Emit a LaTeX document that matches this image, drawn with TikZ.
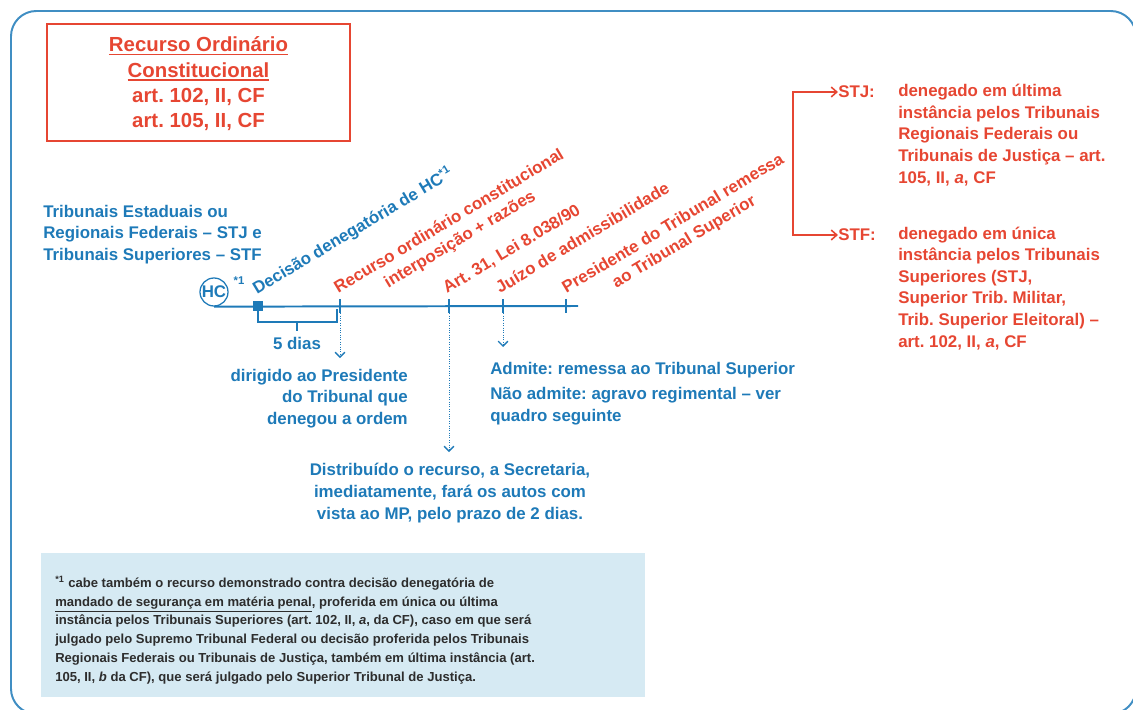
\documentclass[tikz,border=0pt]{standalone}
\usepackage{fontspec}
\setmainfont{Liberation Sans}
\frenchspacing
\usetikzlibrary{arrows.meta,positioning,calc}

\definecolor{rocblue}{RGB}{30,122,184}
\definecolor{rocred}{RGB}{230,70,50}
\definecolor{notefill}{RGB}{214,234,243}
\definecolor{notetext}{RGB}{45,45,45}

% heavier underline for the heading
\newcommand{\headul}[1]{\vtop{\hbox{#1}\kern1.2pt\hrule height 1.1pt}}

\tikzset{
  every node/.style={font=\bfseries\fontsize{12}{15}\selectfont, inner sep=0pt},
  bluetxt/.style={text=rocblue},
  redtxt/.style={text=rocred},
  stage/.style={rotate=31, anchor=base west, align=center},
  tick/.style={rocblue, line width=1.4pt},
  drop/.style={rocblue, densely dotted, line width=0.7pt,
    -{Straight Barb[length=3.5pt,width=7pt,line width=0.9pt]}},
  branch/.style={rocred, line width=1.1pt, -{Straight Barb[length=4pt,width=7pt]}},
}

\begin{document}
\begin{tikzpicture}[x=0.025cm, y=-0.025cm]
  \useasboundingbox (0,0) rectangle (1133,710);

  % outer frame
  \draw[rocblue!85, line width=1.4pt, rounded corners=18] (11,11) rectangle (1136,714);

  % title box
  \node[draw=rocred, line width=0.9pt, minimum width=7.575cm, minimum height=2.925cm]
        (title) at (198.5,82.5) {};
  \node[redtxt, align=center, font=\bfseries\fontsize{14.5}{18}\selectfont]
        (titletxt) at (198.5,84)
        {\headul{Recurso Ordinário}\\\headul{Constitucional}\\art. 102, II, CF\\art. 105, II, CF};

  % courts (base = last line)
  \node[bluetxt, align=left, anchor=base west] (courts) at (43,260)
        {Tribunais Estaduais ou\\Regionais Federais -- STJ e\\Tribunais Superiores -- STF};

  % the time line
  \node[circle, draw=rocblue, line width=0.9pt, bluetxt, minimum size=0.7cm] (hc) at (214,292) {HC};
  \node[bluetxt, font=\bfseries\fontsize{8}{9}\selectfont] (hcnote) at (239,281) {*1};
  \coordinate (end) at (578,306);
  \draw[tick] (hc.south) -- (end);
  \node[fill=rocblue, minimum size=0.25cm] (dec) at (258,306) {};
  \foreach \x/\n in {340/t1,449/t2,503/t3,566/t4} {
    \coordinate (\n) at (\x,306);
    \draw[tick] (\x,299) -- (\x,313);
  }

  % 5 days
  \draw[rocblue, line width=1pt] (dec.south) -- (258,322) -- (337,322) -- (337,309);
  \draw[rocblue, line width=1pt] (297,322) -- (297,331);
  \node[bluetxt] (prazo) at (297,343) {5 dias};

  % stage labels
  \node[stage, bluetxt] (decl) at (257,295) {Decisão denegatória de HC\textsuperscript{*1}};
  \node[stage, redtxt] (recl) at (349,312) {Recurso ordinário constitucional\\interposição + razões};
  \node[stage, redtxt] (artl) at (447,294) {Art. 31, Lei 8.038/90};
  \node[stage, redtxt] (juil) at (500,294) {Juízo de admissibilidade};
  \node[stage, redtxt] (presl) at (577,312) {Presidente do Tribunal remessa\\ao Tribunal Superior};

  % notes under the line
  \node[bluetxt, align=right, anchor=base east] (dirig) at (408,424)
        {dirigido ao Presidente\\do Tribunal que\\denegou a ordem};
  \node[bluetxt, anchor=base west] (admite) at (490,374) {Admite: remessa ao Tribunal Superior};
  \node[bluetxt, align=left, anchor=base west] (naoadm) at (490,421)
        {Não admite: agravo regimental -- ver\\quadro seguinte};
  \node[bluetxt, align=center, anchor=base, font=\bfseries\fontsize{12}{15.5}\selectfont]
        (distrib) at (450,519)
        {Distribuído o recurso, a Secretaria,\\imediatamente, fará os autos com\\vista ao MP, pelo prazo de 2 dias.};
  \draw[drop] (t1) -- (340,358);
  \draw[drop] (t2) -- (449,452);
  \draw[drop] (t3) -- (503,347);

  % STJ / STF
  \coordinate (fork) at (793,163);
  \node[redtxt, anchor=west] (stj) at (838,92) {STJ:};
  \node[redtxt, anchor=west] (stf) at (838,235) {STF:};
  \draw[branch] (fork) |- (stj.west);
  \draw[branch] (fork) |- (stf.west);
  \node[redtxt, align=left, anchor=base west, font=\bfseries\fontsize{12}{15.3}\selectfont]
        (stjtxt) at (898,183)
        {denegado em última\\instância pelos Tribunais\\Regionais Federais ou\\Tribunais de Justiça -- art.\\105, II, \textit{a}, CF};
  \node[redtxt, align=left, anchor=base west, font=\bfseries\fontsize{12}{15.3}\selectfont]
        (stftxt) at (898,347)
        {denegado em única\\instância pelos Tribunais\\Superiores (STJ,\\Superior Trib. Militar,\\Trib. Superior Eleitoral) --\\art. 102, II, \textit{a}, CF};

  % footnote
  \node[fill=notefill, minimum width=15.1cm, minimum height=3.6cm, anchor=north west] (notebox) at (41,553) {};
  \node[text=notetext, align=left, anchor=base west, font=\bfseries\fontsize{9.3}{13.3}\selectfont]
        (note) at (55,681)
        {\textsuperscript{*1} cabe também o recurso demonstrado contra decisão denegatória de\\
         \underline{mandado de segurança em matéria penal}, proferida em única ou última\\
         instância pelos Tribunais Superiores (art. 102, II, \textit{a}, da CF), caso em que será\\
         julgado pelo Supremo Tribunal Federal ou decisão proferida pelos Tribunais\\
         Regionais Federais ou Tribunais de Justiça, também em última instância (art.\\
         105, II, \textit{b} da CF), que será julgado pelo Superior Tribunal de Justiça.};
\end{tikzpicture}
\end{document}
